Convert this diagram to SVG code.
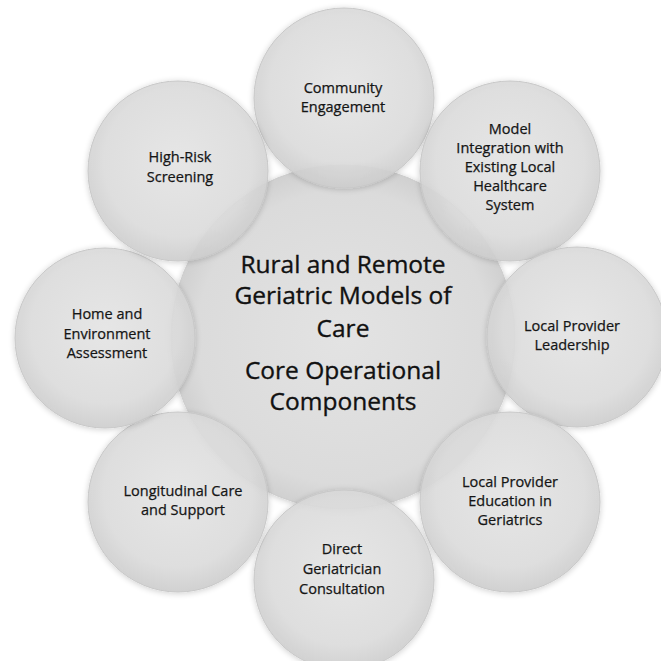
<svg xmlns="http://www.w3.org/2000/svg" width="661" height="661" viewBox="0 0 661 661">
<defs>
<radialGradient id="g" cx="50%" cy="45%" r="55%">
<stop offset="0" stop-color="#e6e6e6"/>
<stop offset="0.75" stop-color="#dddddd"/>
<stop offset="1" stop-color="#cecece"/>
</radialGradient>
<radialGradient id="gc" cx="50%" cy="50%" r="50%">
<stop offset="0" stop-color="#e3e3e3"/>
<stop offset="0.85" stop-color="#dbdbdb"/>
<stop offset="1" stop-color="#d0d0d0"/>
</radialGradient>
<filter id="sh" x="-20%" y="-20%" width="140%" height="140%">
<feGaussianBlur in="SourceAlpha" stdDeviation="3"/>
<feOffset dy="1"/>
<feComponentTransfer><feFuncA type="linear" slope="0.22"/></feComponentTransfer>
<feMerge><feMergeNode/><feMergeNode in="SourceGraphic"/></feMerge>
</filter>
</defs>
<style>
.c{fill:url(#g);fill-opacity:0.88;stroke:#c8c8c8;stroke-width:1;filter:url(#sh)}
.m{fill:url(#gc);stroke:#cccccc;stroke-width:1;filter:url(#sh)}
.t{font-family:"Open Sans","Liberation Sans",sans-serif;font-size:14.5px;fill:#151515;stroke:#151515;stroke-width:0.25;text-anchor:middle}
.h{font-family:"Open Sans","Liberation Sans",sans-serif;font-size:24.5px;fill:#111111;stroke:#111111;stroke-width:0.35;text-anchor:middle}
</style>
<rect width="661" height="661" fill="#ffffff"/>
<g id="center">
<circle class="m" cx="343" cy="337" r="172"/>
<text class="h" x="343" y="273">Rural and Remote</text>
<text class="h" x="343" y="304">Geriatric Models of</text>
<text class="h" x="343" y="337">Care</text>
<text class="h" x="343" y="379">Core Operational</text>
<text class="h" x="343" y="410">Components</text>
</g>
<g id="community-engagement">
<circle class="c" cx="344" cy="98" r="90"/>
<text class="t" x="343" y="93">Community</text>
<text class="t" x="343" y="112">Engagement</text>
</g>
<g id="model-integration">
<circle class="c" cx="510" cy="171" r="90"/>
<text class="t" x="510" y="134">Model</text>
<text class="t" x="510" y="153">Integration with</text>
<text class="t" x="510" y="172">Existing Local</text>
<text class="t" x="510" y="191">Healthcare</text>
<text class="t" x="510" y="210">System</text>
</g>
<g id="local-provider-leadership">
<circle class="c" cx="577" cy="337" r="90"/>
<text class="t" x="572" y="331">Local Provider</text>
<text class="t" x="572" y="350">Leadership</text>
</g>
<g id="local-provider-education">
<circle class="c" cx="510" cy="502" r="90"/>
<text class="t" x="510" y="487">Local Provider</text>
<text class="t" x="510" y="506">Education in</text>
<text class="t" x="510" y="525">Geriatrics</text>
</g>
<g id="direct-geriatrician-consultation">
<circle class="c" cx="344" cy="580" r="90"/>
<text class="t" x="342" y="554">Direct</text>
<text class="t" x="342" y="574">Geriatrician</text>
<text class="t" x="342" y="594">Consultation</text>
</g>
<g id="longitudinal-care">
<circle class="c" cx="178" cy="502" r="90"/>
<text class="t" x="183" y="496">Longitudinal Care</text>
<text class="t" x="183" y="515">and Support</text>
</g>
<g id="home-environment">
<circle class="c" cx="105" cy="338" r="90"/>
<text class="t" x="107" y="319">Home and</text>
<text class="t" x="107" y="339">Environment</text>
<text class="t" x="107" y="358">Assessment</text>
</g>
<g id="high-risk-screening">
<circle class="c" cx="178" cy="171" r="90"/>
<text class="t" x="180" y="162">High-Risk</text>
<text class="t" x="180" y="182">Screening</text>
</g>
</svg>
